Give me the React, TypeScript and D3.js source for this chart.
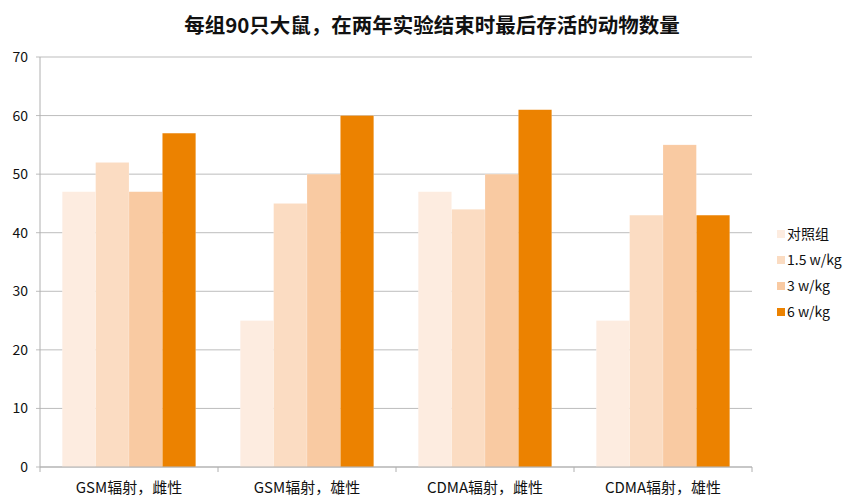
import React from "react";
import * as d3 from "d3";

const categories = ["GSM辐射，雌性", "GSM辐射，雄性", "CDMA辐射，雌性", "CDMA辐射，雄性"];
const seriesNames = ["对照组", "1.5 w/kg", "3 w/kg", "6 w/kg"];
const seriesColors = ["#fdece0", "#fbdcc2", "#f9caa2", "#ec8200"];
const control = [47, 25, 47, 25];
const dose15 = [52, 45, 44, 43];
const dose3 = [47, 50, 50, 55];
const dose6 = [57, 60, 61, 43];
const yTicks = [0, 10, 20, 30, 40, 50, 60, 70];

const seriesValues = [control, dose15, dose3, dose6];

export default function App() {
  const W = 863, H = 504;
  const left = 40, right = 752, top = 57, bottom = 467;
  const font = "'Noto Sans CJK SC', 'Noto Sans', sans-serif";
  const x0 = d3.scaleBand<string>().domain(categories).range([left, right]).paddingInner(0.25).paddingOuter(0.125);
  const x1 = d3.scaleBand<string>().domain(seriesNames).range([0, x0.bandwidth()]).padding(0);
  const y = d3.scaleLinear().domain([0, 70]).range([bottom, top]);
  const step = (right - left) / categories.length;

  return (
    <svg width={W} height={H} style={{ position: "absolute", left: 0, top: 0, background: "#fff" }}>
      <text x={432} y={33} textAnchor="middle" fontFamily={font} fontWeight={700} fontSize={20.5} fill="#111">
        每组90只大鼠，在两年实验结束时最后存活的动物数量
      </text>
      {yTicks.map((t) => (
        <g key={t}>
          <line x1={left - 4} x2={right} y1={y(t)} y2={y(t)} stroke="#bdbdbd" strokeWidth={1} />
          <text x={28} y={y(t) + 5} textAnchor="end" fontFamily={font} fontSize={14} fill="#111">{t}</text>
        </g>
      ))}
      {categories.map((c, i) =>
        seriesNames.map((s, j) => {
          const v = seriesValues[j][i];
          return (
            <rect key={c + s} x={(x0(c) as number) + (x1(s) as number)} y={y(v)} width={x1.bandwidth()} height={y(0) - y(v)}
              fill={seriesColors[j]} stroke="#ffffff" strokeOpacity={0.35} strokeWidth={0.5} />
          );
        })
      )}
      <line x1={left} x2={left} y1={top} y2={bottom} stroke="#b0b0b0" strokeWidth={1} />
      <line x1={left} x2={right} y1={bottom} y2={bottom} stroke="#b0b0b0" strokeWidth={1} />
      {d3.range(categories.length + 1).map((k) => (
        <line key={k} x1={left + k * step} x2={left + k * step} y1={bottom} y2={bottom + 5} stroke="#b0b0b0" strokeWidth={1} />
      ))}
      {categories.map((c) => (
        <text key={c} x={(x0(c) as number) + x0.bandwidth() / 2} y={493} textAnchor="middle" fontFamily={font} fontSize={15} fontWeight={400} fill="#111">{c}</text>
      ))}
      {seriesNames.map((s, j) => (
        <g key={s} transform={`translate(777, ${236 + j * 26})`}>
          <rect x={0} y={-6} width={8} height={8} fill={seriesColors[j]} />
          <text x={10} y={3} fontFamily={font} fontSize={14} fill="#111">{s}</text>
        </g>
      ))}
    </svg>
  );
}
